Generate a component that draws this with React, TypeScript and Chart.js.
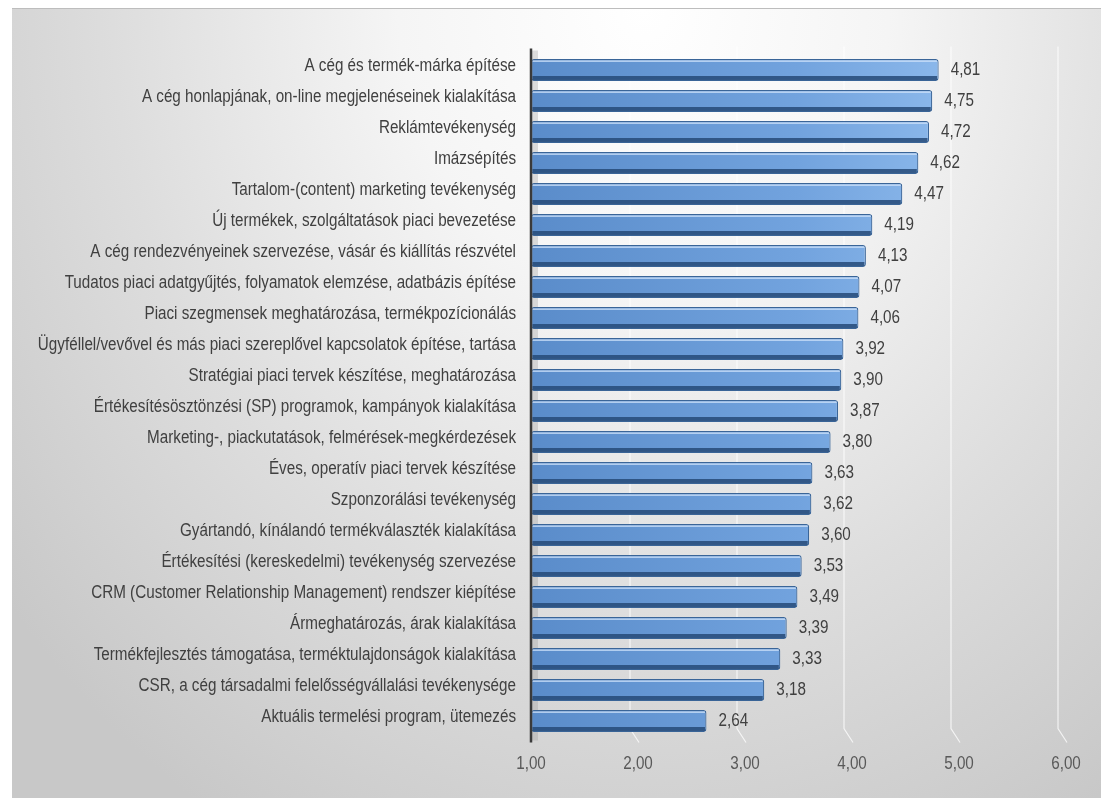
import React, { useEffect, useRef } from 'react';
import { Chart, registerables } from 'chart.js';

Chart.register(...registerables);

const categories = [
  'A cég és termék-márka építése',
  'A cég honlapjának, on-line megjelenéseinek kialakítása',
  'Reklámtevékenység',
  'Imázsépítés',
  'Tartalom-(content) marketing tevékenység',
  'Új termékek, szolgáltatások piaci bevezetése',
  'A cég rendezvényeinek szervezése, vásár és kiállítás részvétel',
  'Tudatos piaci adatgyűjtés, folyamatok elemzése, adatbázis építése',
  'Piaci szegmensek meghatározása, termékpozícionálás',
  'Ügyféllel/vevővel és más piaci szereplővel kapcsolatok építése, tartása',
  'Stratégiai piaci tervek készítése, meghatározása',
  'Értékesítésösztönzési (SP) programok, kampányok kialakítása',
  'Marketing-, piackutatások, felmérések-megkérdezések',
  'Éves, operatív piaci tervek készítése',
  'Szponzorálási tevékenység',
  'Gyártandó, kínálandó termékválaszték kialakítása',
  'Értékesítési (kereskedelmi) tevékenység szervezése',
  'CRM (Customer Relationship Management) rendszer kiépítése',
  'Ármeghatározás, árak kialakítása',
  'Termékfejlesztés támogatása, terméktulajdonságok kialakítása',
  'CSR, a cég társadalmi felelősségvállalási tevékenysége',
  'Aktuális termelési program, ütemezés',
];

const values = [
  4.81, 4.75, 4.72, 4.62, 4.47, 4.19, 4.13, 4.07, 4.06, 3.92, 3.9, 3.87, 3.8,
  3.63, 3.62, 3.6, 3.53, 3.49, 3.39, 3.33, 3.18, 2.64,
];

const xTicks = [1, 2, 3, 4, 5, 6];

const FONT = "'Liberation Sans', Arial, sans-serif";
const fmt = (v: number) => v.toFixed(2).replace('.', ',');

function narrowText(
  ctx: CanvasRenderingContext2D,
  text: string,
  x: number,
  y: number,
  align: CanvasTextAlign,
  color: string,
  size = 17.5,
  sx = 0.87
) {
  ctx.save();
  ctx.translate(x, y);
  ctx.scale(sx, 1);
  ctx.font = `${size}px ${FONT}`;
  ctx.textAlign = align;
  ctx.textBaseline = 'middle';
  ctx.fillStyle = color;
  ctx.fillText(text, 0, 0);
  ctx.restore();
}

const decorPlugin = {
  id: 'decor',
  beforeDatasetsDraw(chart: any) {
    const { ctx, chartArea, scales } = chart;
    const xs = scales.x;
    ctx.save();
    ctx.strokeStyle = 'rgba(255,255,255,0.75)';
    ctx.lineWidth = 1.2;
    xTicks.forEach((t) => {
      if (t === xTicks[0]) return;
      const px = xs.getPixelForValue(t);
      ctx.beginPath();
      ctx.moveTo(px - 8, chartArea.top - 8);
      ctx.lineTo(px - 8, chartArea.bottom - 8);
      ctx.lineTo(px + 1, chartArea.bottom + 6);
      ctx.stroke();
    });
    // floor shadow next to axis
    ctx.fillStyle = 'rgba(150,150,150,0.3)';
    ctx.fillRect(chartArea.left, chartArea.top - 4, 7, chartArea.bottom - chartArea.top + 8);
    ctx.restore();
  },
  afterDatasetsDraw(chart: any) {
    const { ctx, chartArea, scales } = chart;
    const meta = chart.getDatasetMeta(0);
    ctx.save();
    meta.data.forEach((el: any, i: number) => {
      const p = el.getProps(['x', 'y', 'base', 'height'], true);
      const left = Math.max(p.base, chartArea.left);
      const top = p.y - p.height / 2;
      const bot = p.y + p.height / 2;
      const w = p.x - left;
      // bottom dark strip
      ctx.fillStyle = 'rgba(38,74,120,0.85)';
      ctx.fillRect(left + 1.5, bot - 5, w - 3, 4);
      // top highlight
      ctx.fillStyle = 'rgba(205,225,250,0.75)';
      ctx.fillRect(left + 1.5, top + 1.5, w - 3, 1.5);
      // value label
      narrowText(ctx, fmt(values[i]), p.x + 12, p.y + 0.5, 'left', '#404040');
    });
    // axis line
    ctx.strokeStyle = '#3a3a3a';
    ctx.lineWidth = 2.5;
    ctx.beginPath();
    ctx.moveTo(chartArea.left, chartArea.top - 6);
    ctx.lineTo(chartArea.left, chartArea.bottom + 6);
    ctx.stroke();
    // category labels (y axis)
    const ys = scales.y;
    categories.forEach((c, i) => {
      narrowText(ctx, c, chartArea.left - 15, ys.getPixelForValue(i) - 4, 'right', '#404040');
    });
    // value axis labels
    const xs = scales.x;
    xTicks.forEach((t) => {
      narrowText(ctx, fmt(t), xs.getPixelForValue(t), chartArea.bottom + 28, 'center', '#595959');
    });
    ctx.restore();
  },
};

export default function App() {
  const ref = useRef<HTMLCanvasElement | null>(null);
  useEffect(() => {
    if (!ref.current) return;
    const chart = new Chart(ref.current, {
      type: 'bar',
      data: {
        labels: categories,
        datasets: [
          {
            data: values,
            base: 1,
            backgroundColor: (c: any) => {
              const area = c.chart.chartArea;
              if (!area) return '#6a9bd6';
              const g = c.chart.ctx.createLinearGradient(area.left, 0, area.right, 0);
              g.addColorStop(0, '#5a8cca');
              g.addColorStop(0.5, '#72a3de');
              g.addColorStop(1, '#a0c9f5');
              return g;
            },
            borderColor: '#3a6598',
            borderWidth: 1.2,
            borderRadius: 3,
            borderSkipped: false,
            barPercentage: 0.71,
            categoryPercentage: 1,
          } as any,
        ],
      },
      options: {
        indexAxis: 'y',
        responsive: false,
        animation: false,
        layout: { padding: { top: 45.5, right: 35, bottom: 0, left: 0 } },
        plugins: { legend: { display: false }, tooltip: { enabled: false } },
        scales: {
          x: {
            min: 1,
            max: 6,
            afterBuildTicks: (s: any) => {
              s.ticks = xTicks.map((v) => ({ value: v }));
            },
            afterFit: (s: any) => {
              s.height = 61.5;
            },
            grid: { display: false, drawTicks: false },
            border: { display: false },
            ticks: { display: false },
          },
          y: {
            afterFit: (s: any) => {
              s.width = 519;
            },
            grid: { display: false, drawTicks: false },
            border: { display: false },
            ticks: { display: false, autoSkip: false },
          },
        },
      },
      plugins: [decorPlugin],
    });
    return () => chart.destroy();
  }, []);

  return (
    <div
      style={{
        position: 'absolute',
        left: 12,
        top: 8,
        width: 1089,
        height: 790,
        borderTop: '1px solid #bdbdbd',
        boxSizing: 'border-box',
        background:
          'radial-gradient(ellipse 75% 120% at 58% 0%, #ffffff 0%, #f5f5f5 30%, #dddddd 65%, #c8c8c8 100%)',
        overflow: 'hidden',
      }}
    >
      <canvas ref={ref} width={1089} height={789} style={{ display: 'block' }} />
    </div>
  );
}
